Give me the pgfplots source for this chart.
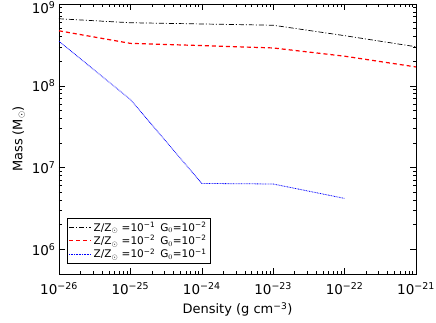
\documentclass[border=0pt]{standalone}
\usepackage{fontspec}
\setmainfont{DejaVu Sans}
\usepackage{pgfplots}
\pgfplotsset{compat=1.18}
\usepackage{pgfplotstable}
\usetikzlibrary{calc}

% masses (M_sun) vs density (g cm^-3)
\pgfplotstableread{
rho    m
1e-26  6.6e8
1e-25  5.9e8
1e-24  5.7e8
1e-23  5.5e8
1e-22  4.1e8
1e-21  3.0e8
}\zA
\pgfplotstableread{
rho    m
1e-26  4.7e8
1e-25  3.3e8
1e-24  3.1e8
1e-23  2.9e8
1e-22  2.3e8
1e-21  1.7e8
}\zB
\pgfplotstableread{
rho    m
1e-26  3.5e8
1e-25  6.8e7
1e-24  6.4e6
1e-23  6.3e6
1e-22  4.2e6
}\zC

\begin{document}
\begin{tikzpicture}
\begin{axis}[
    name=ax,
    xmode=log, ymode=log,
    scale only axis,
    width=357pt, height=270pt,
    xmin=1e-26, xmax=1e-21,
    ymin=5e5, ymax=1e9,
    xtick={1e-26,1e-25,1e-24,1e-23,1e-22,1e-21},
    xticklabels={10\textsuperscript{−26},10\textsuperscript{−25},10\textsuperscript{−24},10\textsuperscript{−23},10\textsuperscript{−22},10\textsuperscript{−21}},
    ytick={1e6,1e7,1e8,1e9},
    yticklabels={10\textsuperscript{6},10\textsuperscript{7},10\textsuperscript{8},\raisebox{-9.5pt}[0pt][0pt]{10\textsuperscript{9}}},
    tick label style={font=\fontsize{13.5}{16}\selectfont},
    xticklabel style={yshift=-5pt},
    label style={font=\fontsize{13}{15}\selectfont},
    xlabel={Density (g cm\textsuperscript{−3})},
    ylabel={Mass (M$_\odot$)},
    xlabel style={yshift=-1pt},
    major tick length=6pt, minor tick length=3pt,
    axis line style={line width=0.6pt},
    every tick/.style={black, line width=0.5pt},
    legend style={at={(0.022,0.04)}, anchor=south west,
        font=\fontsize{10.5}{11.5}\selectfont, inner sep=1.5pt, row sep=-1.5pt},
    legend cell align=left,
    legend image code/.code={\draw[#1] (0pt,0pt) -- (22pt,0pt);},
]
\addplot[color=black, line width=0.7pt, dash pattern=on 5pt off 2pt on 1pt off 2pt] table[x=rho,y=m] {\zA};
\addlegendentry{Z/Z$_\odot$ =10\textsuperscript{−1}\, G$_0$=10\textsuperscript{−2}}
\addplot[color=red, line width=1.2pt, dash pattern=on 4pt off 3pt] table[x=rho,y=m] {\zB};
\addlegendentry{Z/Z$_\odot$ =10\textsuperscript{−2}\, G$_0$=10\textsuperscript{−2}}
\addplot[color=blue, line width=0.8pt, dash pattern=on 0.8pt off 0.8pt] table[x=rho,y=m] {\zC};
\addlegendentry{Z/Z$_\odot$ =10\textsuperscript{−2}\, G$_0$=10\textsuperscript{−1}}
\end{axis}
\pgfresetboundingbox
\path ($(ax.south west)+(-59pt,-49pt)$) rectangle ($(ax.north east)+(20pt,4pt)$);
\end{tikzpicture}
\end{document}
